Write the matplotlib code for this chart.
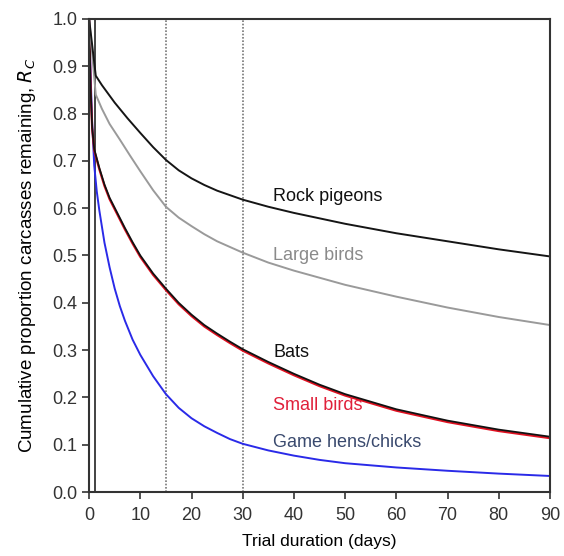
import matplotlib
matplotlib.use("Agg")
import matplotlib.pyplot as plt

plt.rcParams["font.family"] = ["Liberation Sans", "DejaVu Sans"]

# values (days, proportion remaining)
days_pigeon = [0, 1.3, 2.5, 5, 7.5, 10, 12.5, 15, 17.5, 20, 22.5, 25, 30, 35, 40, 50, 60, 70, 80, 90]
rock_pigeons = [1.0, 0.88, 0.86, 0.823, 0.79, 0.759, 0.729, 0.702, 0.68, 0.663, 0.649, 0.637,
                0.618, 0.603, 0.59, 0.567, 0.547, 0.53, 0.513, 0.498]

days_large = [0, 1.3, 2.5, 4, 6, 8, 10, 12.5, 15, 17.5, 20, 22.5, 25, 30, 35, 40, 50, 60, 70, 80, 90]
large_birds = [1.0, 0.84, 0.81, 0.778, 0.745, 0.711, 0.678, 0.638, 0.603, 0.58, 0.562, 0.545,
               0.53, 0.506, 0.485, 0.468, 0.438, 0.413, 0.39, 0.37, 0.353]

days_bats = [0, 0.3, 0.6, 1, 2, 3, 4, 5.5, 7, 8.5, 10, 12.5, 15, 17.5, 20, 22.5, 25, 27.5,
             30, 35, 40, 45, 50, 60, 70, 80, 90]
bats = [1.0, 0.85, 0.77, 0.725, 0.685, 0.65, 0.622, 0.59, 0.558, 0.528, 0.50, 0.462, 0.43,
        0.40, 0.375, 0.353, 0.335, 0.318, 0.302, 0.275, 0.25, 0.227, 0.207, 0.175, 0.151,
        0.132, 0.117]
small_birds = [1.0, 0.85, 0.768, 0.722, 0.682, 0.647, 0.619, 0.587, 0.555, 0.525, 0.497,
               0.459, 0.427, 0.397, 0.372, 0.35, 0.332, 0.315, 0.299, 0.272, 0.247, 0.224,
               0.204, 0.172, 0.148, 0.129, 0.114]

days_hens = [0, 0.3, 0.6, 1, 1.5, 2, 3, 4, 5, 6, 7, 8.5, 10, 12.5, 15, 17.5, 20, 22.5, 25,
             27.5, 30, 35, 40, 45, 50, 60, 70, 80, 90]
game_hens = [1.0, 0.88, 0.78, 0.69, 0.635, 0.595, 0.527, 0.475, 0.43, 0.393, 0.362, 0.322,
             0.29, 0.245, 0.207, 0.178, 0.156, 0.139, 0.125, 0.112, 0.102, 0.088, 0.077,
             0.068, 0.061, 0.052, 0.045, 0.039, 0.034]

x_ticks = [0, 10, 20, 30, 40, 50, 60, 70, 80, 90]
y_ticks = [0.0, 0.1, 0.2, 0.3, 0.4, 0.5, 0.6, 0.7, 0.8, 0.9, 1.0]

fig = plt.figure(figsize=(5.64, 5.56), dpi=100)
ax = fig.add_axes([0.158, 0.115, 0.817, 0.851])

# reference lines
ax.axvline(15, color="#777777", lw=1.2, ls=(0, (1, 1)))
ax.axvline(30, color="#777777", lw=1.2, ls=(0, (1, 1)))
ax.axvline(1.2, color="#222222", lw=1.2)

ax.plot(days_hens, game_hens, color="#2a2ae8", lw=1.4)
ax.plot(days_bats, small_birds, color="#e01020", lw=1.6)
ax.plot(days_bats, bats, color="#111111", lw=1.3)
ax.plot(days_large, large_birds, color="#9a9a9a", lw=1.4)
ax.plot(days_pigeon, rock_pigeons, color="#151515", lw=1.4)

# curve labels
lab_kw = dict(fontsize=13, va="center")
ax.text(36, 0.624, "Rock pigeons", color="#111111", **lab_kw)
ax.text(36, 0.500, "Large birds", color="#8a8a8a", **lab_kw)
ax.text(36, 0.296, "Bats", color="#111111", **lab_kw)
ax.text(36, 0.182, "Small birds", color="#e0203a", **lab_kw)
ax.text(36, 0.104, "Game hens/chicks", color="#3a4a6e", **lab_kw)

ax.set_xlim(0, 90)
ax.set_ylim(0, 1.0)
ax.set_xticks(x_ticks)
ax.set_yticks(y_ticks)
ax.set_yticklabels([f"{v:.1f}" for v in y_ticks])
ax.tick_params(direction="out", length=5, width=1.2, labelsize=13, colors="#333333")
ax.tick_params(axis="x", pad=6)
for s in ax.spines.values():
    s.set_linewidth(1.5)
    s.set_color("#333333")

ax.set_xlabel("Trial duration (days)", fontsize=12.5, labelpad=7)
ax.set_ylabel("Cumulative proportion carcasses remaining, $R_C$", fontsize=13.5, labelpad=10)

fig.savefig("out.png", dpi=100)
